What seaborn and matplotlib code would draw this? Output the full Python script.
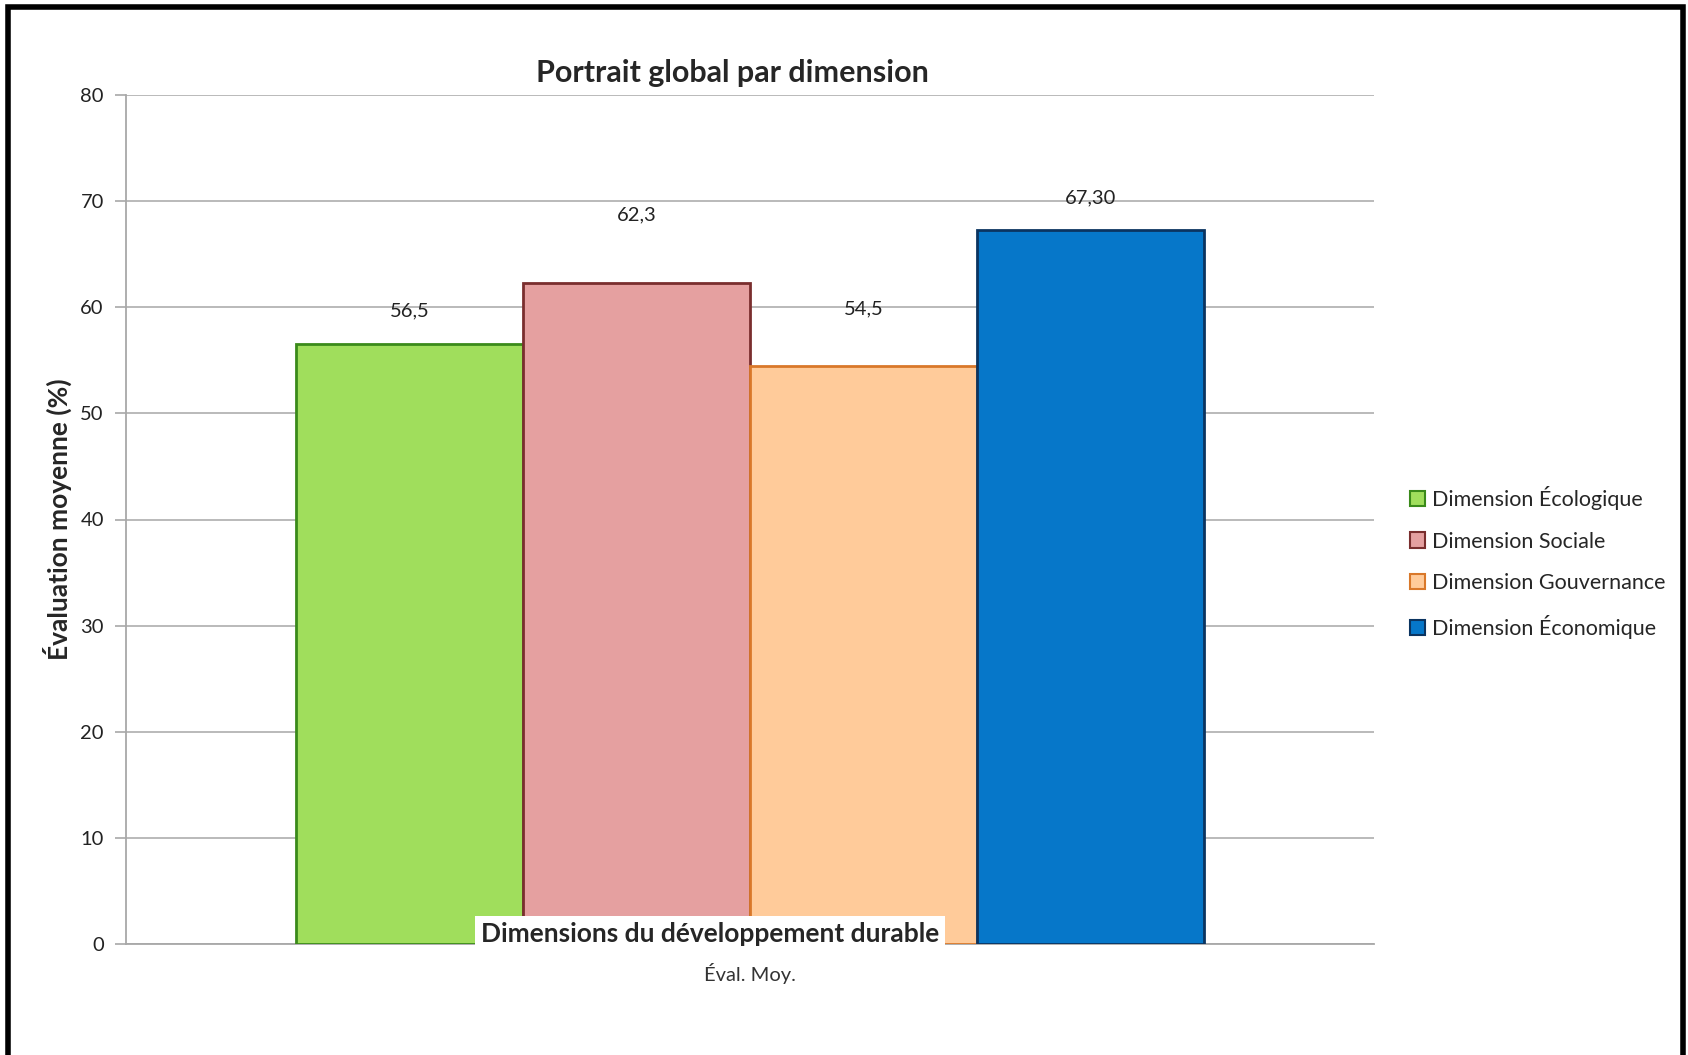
import matplotlib
matplotlib.use("Agg")
import matplotlib.pyplot as plt
import seaborn as sns
import pandas as pd
from matplotlib.patches import Patch, Rectangle

# data
category = ["Éval. Moy."]
dimensions = ["Dimension Écologique", "Dimension Sociale",
              "Dimension Gouvernance", "Dimension Économique"]
values = [56.5, 62.3, 54.5, 67.3]
value_labels = ["56,5", "62,3", "54,5", "67,30"]
label_offsets = [3.2, 6.4, 5.3, 3.0]
y_ticks = [0, 10, 20, 30, 40, 50, 60, 70, 80]

fill_colors = ["#A0DE5C", "#E5A0A0", "#FFCB9A", "#0677C9"]
edge_colors = ["#3A8A1A", "#7A2E2E", "#D9782A", "#0B3460"]

df = pd.DataFrame({"cat": category * len(dimensions),
                   "dim": dimensions, "val": values})

sns.set_style("white")
plt.rcParams["font.family"] = ["Lato", "DejaVu Sans"]

fig = plt.figure(figsize=(16.88, 10.55), dpi=100)
ax = fig.add_axes([126 / 1688, 1 - 944 / 1055, (1374 - 126) / 1688, (944 - 95) / 1055])

sns.barplot(data=df, x="cat", y="val", hue="dim", hue_order=dimensions,
            palette=fill_colors, saturation=1, width=0.727, legend=False,
            ax=ax, zorder=3)

bars = ax.patches[:len(dimensions)]
for bar, ec in zip(bars, edge_colors):
    bar.set_edgecolor(ec)
    bar.set_linewidth(2)

for bar, v, lab, off in zip(bars, values, value_labels, label_offsets):
    ax.text(bar.get_x() + bar.get_width() / 2, v + off, lab,
            ha="center", va="center", fontsize=14.5, color="#222222", zorder=4)

ax.set_ylim(0, 80)
ax.set_xlim(-0.5, 0.5)
ax.set_yticks(y_ticks)
ax.yaxis.grid(True, color="#B4B4B4", linewidth=1.3, zorder=0)
ax.set_axisbelow(True)
for side in ["top", "right"]:
    ax.spines[side].set_visible(False)
for side in ["left", "bottom"]:
    ax.spines[side].set_color("#A8A8A8")
    ax.spines[side].set_linewidth(1.3)
ax.tick_params(axis="y", left=True, length=8, width=1.2, color="#A8A8A8",
               labelsize=14.5, labelcolor="#222222", pad=8)
ax.tick_params(axis="x", bottom=False, labelsize=14.5, labelcolor="#333333", pad=10)
ax.set_xlabel("")
ax.set_ylabel("Évaluation moyenne (%)", fontsize=19, fontweight="bold", labelpad=6)

# titles with white background, as in the original
fig.text(732 / 1688, 1 - 73 / 1055, "Portrait global par dimension",
         ha="center", va="center", fontsize=22, fontweight="bold",
         bbox=dict(facecolor="white", edgecolor="none", pad=5))
fig.text(710 / 1688, 1 - 934 / 1055, "Dimensions du développement durable",
         ha="center", va="center", fontsize=19, fontweight="bold", zorder=10,
         bbox=dict(facecolor="white", edgecolor="none", pad=4))

handles = [Patch(facecolor=fc, edgecolor=ec, linewidth=1.5)
           for fc, ec in zip(fill_colors, edge_colors)]
fig.legend(handles, dimensions, loc="upper left",
           bbox_to_anchor=(1410 / 1688, 1 - 486 / 1055), frameon=False,
           fontsize=15.5, handlelength=0.7, handleheight=0.7, handletextpad=0.3,
           labelspacing=1.0, borderaxespad=0, borderpad=0)

# thick black frame around the chart
fig.patches.append(Rectangle((8 / 1688, -0.05), (1683 - 8) / 1688, 1.05 - 7 / 1055,
                             transform=fig.transFigure, fill=False,
                             edgecolor="black", linewidth=4))

fig.savefig("out.png", dpi=100)
